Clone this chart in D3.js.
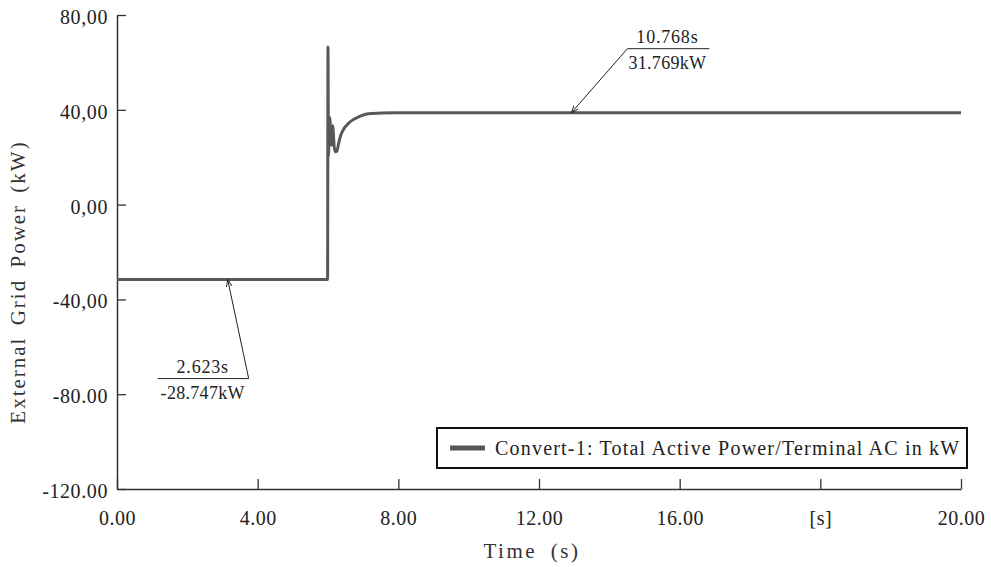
<!DOCTYPE html>
<html>
<head>
<meta charset="utf-8">
<script src="https://cdn.jsdelivr.net/npm/d3@7/dist/d3.min.js"></script>
<style>
  html, body { margin: 0; padding: 0; background: #fff; }
  svg { display: block; font-family: "Liberation Serif", "Times New Roman", serif; }
</style>
</head>
<body>
<svg id="chart" width="991" height="567"></svg>
<script>
// Simulated converter active power (kW) over time (s)
const timeS = [0, 4.99, 5.00, 5.01, 5.04, 5.08, 5.11, 5.15, 5.18, 5.21, 5.25, 5.30, 5.38, 5.52, 5.76, 5.95, 6.60, 20];
const powerKW = [-28.747, -28.747, 55.6, 16.0, 30.0, 20.0, 27.0, 19.0, 17.6, 17.8, 20.5, 23.5, 26.0, 28.4, 30.5, 31.4, 31.75, 31.769];

// Axis tick labels as printed by the simulation tool
const xTickLabels = ["0.00", "4.00", "8.00", "12.00", "16.00", "[s]", "20.00"];
const yTickLabels = ["80,00", "40,00", "0,00", "-40,00", "-80.00", "-120.00"];

// Cursor readouts
const markerTimes = [2.623, 10.768];
const markerValues = [-28.747, 31.769];

const xDomain = [0, 20];
const yDomain = [-104.7, 67.2];

const seriesName = "Convert-1: Total Active Power/Terminal AC in kW";
const xTitle = "Time (s)";
const yTitle = "External Grid Power (kW)";

const svg = d3.select("#chart");
const plotLeft = 117, plotRight = 961, plotTop = 15, plotBottom = 489;
const axisColor = "#333";
const lineColor = "#585858";
const serif = "'Liberation Serif', 'Times New Roman', serif";

const x = d3.scaleLinear().domain(xDomain).range([plotLeft, plotRight]);
const y = d3.scaleLinear().domain(yDomain).range([plotBottom, plotTop]);

// Evenly spaced label positions along each axis
const xLab = d3.scalePoint().domain(xTickLabels).range([plotLeft, plotRight]);
const yLab = d3.scalePoint().domain(yTickLabels).range([plotTop, plotBottom]);

// X axis: ticks point inward (upwards)
const xAxis = svg.append("g").attr("transform", `translate(0,${plotBottom})`)
  .call(d3.axisBottom(xLab).tickSizeInner(-10).tickSizeOuter(0).tickPadding(22));
xAxis.select(".domain").attr("stroke", axisColor).attr("stroke-width", 1.5);
xAxis.selectAll(".tick line").attr("stroke", axisColor).attr("stroke-width", 1.3);
xAxis.selectAll(".tick text").attr("font-size", 20).attr("fill", "#222")
  .attr("letter-spacing", "0.5px").attr("font-family", serif);

// Y axis: ticks point inward (to the right)
const yAxis = svg.append("g").attr("transform", `translate(${plotLeft},0)`)
  .call(d3.axisLeft(yLab).tickSizeInner(-9).tickSizeOuter(0).tickPadding(9));
yAxis.select(".domain").attr("stroke", axisColor).attr("stroke-width", 1.5);
yAxis.selectAll(".tick line").attr("stroke", axisColor).attr("stroke-width", 1.3);
yAxis.selectAll(".tick text").attr("font-size", 20).attr("fill", "#222").attr("dy", "0.42em")
  .attr("letter-spacing", "0.6px").attr("font-family", serif);

// Axis titles
svg.append("text").attr("x", (plotLeft + plotRight) / 2 - 7).attr("y", 558)
  .attr("text-anchor", "middle").attr("font-size", 21).attr("fill", "#333")
  .attr("letter-spacing", "2.5px").attr("word-spacing", "6px").text(xTitle);
svg.append("text").attr("transform", `translate(25,${(plotTop + plotBottom) / 2 + 30}) rotate(-90)`)
  .attr("text-anchor", "middle").attr("font-size", 21).attr("fill", "#333")
  .attr("letter-spacing", "2px").attr("word-spacing", "4px").text(yTitle);

// Power trace
const line = d3.line().x((d, i) => x(timeS[i])).y(d => y(d)).curve(d3.curveMonotoneX);
svg.append("path").datum(powerKW)
  .attr("d", line)
  .attr("fill", "none").attr("stroke", lineColor).attr("stroke-width", 3)
  .attr("stroke-linejoin", "miter");

// Arrowhead for cursor leaders
svg.append("defs").append("marker")
  .attr("id", "arrow").attr("viewBox", "0 0 10 10").attr("refX", 9).attr("refY", 5)
  .attr("markerWidth", 8).attr("markerHeight", 8).attr("orient", "auto")
  .append("path").attr("d", "M0,1.5 L9,5 L0,8.5").attr("fill", "none")
  .attr("stroke", "#222").attr("stroke-width", 1.2);

// Cursor readouts: leader from a label bar to the trace point
const readouts = [
  { dx: 21, dy: 99, barFrom: -91, barTo: 0, textX: -46 },
  { dx: 56, dy: -64, barFrom: 0, barTo: 82, textX: 40 }
];
readouts.forEach((r, i) => {
  const px = x(markerTimes[i]), py = y(markerValues[i]);
  const ex = px + r.dx, ey = py + r.dy;
  const g = svg.append("g");
  g.append("line").attr("x1", ex).attr("y1", ey).attr("x2", px).attr("y2", py)
    .attr("stroke", "#222").attr("stroke-width", 1).attr("marker-end", "url(#arrow)");
  g.append("line").attr("x1", ex + r.barFrom).attr("x2", ex + r.barTo)
    .attr("y1", ey).attr("y2", ey).attr("stroke", "#222").attr("stroke-width", 1);
  g.append("text").attr("x", ex + r.textX).attr("y", ey - 6)
    .attr("text-anchor", "middle").attr("font-size", 18).attr("fill", "#222")
    .attr("letter-spacing", "0.8px").text(markerTimes[i].toFixed(3) + "s");
  g.append("text").attr("x", ex + r.textX).attr("y", ey + 20)
    .attr("text-anchor", "middle").attr("font-size", 18).attr("fill", "#222")
    .attr("letter-spacing", "0.3px").text(markerValues[i].toFixed(3) + "kW");
});

// Legend
const lg = svg.append("g");
lg.append("rect").attr("x", 437).attr("y", 428).attr("width", 530).attr("height", 40)
  .attr("fill", "#fff").attr("stroke", "#111").attr("stroke-width", 2);
lg.append("line").attr("x1", 450).attr("x2", 485).attr("y1", 448).attr("y2", 448)
  .attr("stroke", lineColor).attr("stroke-width", 5);
lg.append("text").attr("x", 495).attr("y", 455).attr("font-size", 20).attr("fill", "#222")
  .attr("letter-spacing", "1.2px").text(seriesName);
</script>
</body>
</html>
